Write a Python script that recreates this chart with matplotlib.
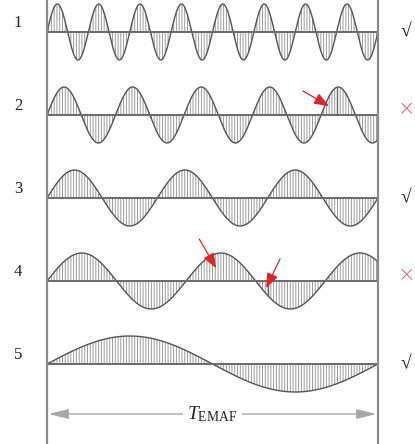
import numpy as np
import matplotlib
matplotlib.use("Agg")
import matplotlib.pyplot as plt

plt.rcParams['mathtext.fontset'] = 'custom'
plt.rcParams['mathtext.rm'] = 'Liberation Serif'
plt.rcParams['mathtext.it'] = 'Liberation Serif:italic'
plt.rcParams['hatch.linewidth'] = 0.7
plt.rcParams['hatch.color'] = '#9a9a9a'

# ---- data ----
row_labels = ['1', '2', '3', '4', '5']
cycles = [8.0, 4.83, 3.0, 2.38, 1.0]          # cycles of the signal within T_EMAF
verdicts = ['√', '×', '√', '×', '√']
verdict_colors = ['#222222', '#e06464', '#222222', '#e06464', '#222222']
period_label = r'$T_{\mathrm{EMAF}}$'
# red arrows: (row index, time of tip, tip offset in amplitude units, tail dt, tail dy)
red_arrows = [(1, 0.852, 0.32, -0.079, 0.54),
              (3, 0.511, 0.46, -0.051, 1.04),
              (3, 0.662, -0.25, 0.042, 1.04)]
# dark sample markers: (row index, time)
markers = [(1, 0.876), (3, 0.668)]

# ---- layout ----
W, H = 415, 444
fig = plt.figure(figsize=(W / 100, H / 100), dpi=100)
ax = fig.add_axes([0, 0, 1, 1])
px = 331.0          # pixels per unit time
x0 = 47.0           # pixel of t=0
row_px = 83.0       # pixels between rows
top0 = 32.0         # pixel y of first baseline
amp = 28.0 / row_px
ax.set_xlim(-x0 / px, (W - x0) / px)
ax.set_ylim(-(H - top0) / row_px, top0 / row_px)
ax.axis('off')

t = np.linspace(0, 1, 2000)
for i, (lab, c, v, vc) in enumerate(zip(row_labels, cycles, verdicts, verdict_colors)):
    base = -i
    y = base + amp * np.sin(2 * np.pi * c * t)
    ax.fill_between(t, base, y, facecolor='white', edgecolor='none', hatch='||||||', linewidth=0)
    ax.plot(t, y, color='#555555', lw=1.0)
    ax.plot([0, 1], [base, base], color='#6a6a6a', lw=1.4)
    ax.text(-29 / px, base + 9 / row_px, lab, ha='center', va='center', fontsize=12,
            family=['Liberation Serif', 'DejaVu Serif'], color='#222222')
    if v == '√':
        ax.text(359 / px, base, v, ha='center', va='center', fontsize=14,
                family=['Liberation Serif', 'DejaVu Serif'], color=vc)
    else:
        ax.text(359 / px, base + 6 / row_px, v, ha='center', va='center', fontsize=15,
                family=['DejaVu Sans'], color=vc, fontweight='light')

for (r, tm) in markers:
    base = -r
    ax.plot([tm, tm], [base, base + amp * np.sin(2 * np.pi * cycles[r] * tm)],
            color='#666666', lw=1.0)

for (r, tt, dy, tdx, tdy) in red_arrows:
    base = -r
    tip = (tt, base + amp * dy)
    tail = (tt + tdx, base + amp * dy + tdy * amp)
    ax.annotate('', xy=tip, xytext=tail,
                arrowprops=dict(arrowstyle='-|>,head_length=0.9,head_width=0.35',
                                color='#e02424', lw=0.9, shrinkA=0, shrinkB=0,
                                mutation_scale=10))

# vertical boundaries
ylo, yhi = ax.get_ylim()
ax.plot([0, 0], [ylo, yhi], color='#8a8a8a', lw=1.6)
ax.plot([1, 1], [ylo, yhi], color='#8a8a8a', lw=1.6)

# period arrow
ya = -(414 - top0) / row_px
ax.annotate('', xy=(0.005, ya), xytext=(0.995, ya),
            arrowprops=dict(arrowstyle='<|-|>,head_length=1.0,head_width=0.25',
                            color='#a8a8a8', lw=1.0, shrinkA=0, shrinkB=0,
                            mutation_scale=12))
ax.text(0.5, ya, period_label, ha='center', va='center', fontsize=14, color='#222222',
        bbox=dict(boxstyle='square,pad=0.2', fc='white', ec='none'))

fig.savefig('out.png', dpi=100)
